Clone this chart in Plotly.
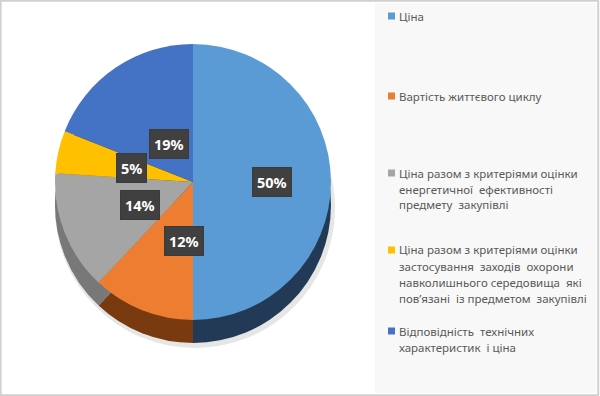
import math
import plotly.graph_objects as go

categories = [
    "Ціна",
    "Вартість життєвого циклу",
    "Ціна разом з критеріями оцінки енергетичної ефективності предмету закупівлі",
    "Ціна разом з критеріями оцінки застосування заходів охорони навколишнього середовища які пов’язані із предметом закупівлі",
    "Відповідність технічних характеристик і ціна",
]
legend_lines = [
    ["Ціна"],
    ["Вартість життєвого циклу"],
    ["Ціна разом з критеріями оцінки", "енергетичної  ефективності", "предмету  закупівлі"],
    ["Ціна разом з критеріями оцінки", "застосування  заходів  охорони", "навколишнього середовища  які",
     "пов’язані  із предметом  закупівлі"],
    ["Відповідність  технічних", "характеристик  і ціна"],
]
values = [50, 12, 14, 5, 19]
top_colors = ["#5B9BD5", "#ED7D31", "#A5A5A5", "#FFC000", "#4472C4"]
side_colors = ["#223A55", "#7A3A10", "#787878", "#8A6800", "#233C6A"]

W, H = 600, 396
cx_px, cy_px, r_px, depth = 193, 182, 138, 23


def dom(cx, cy, r):
    return dict(x=[(cx - r) / W, (cx + r) / W], y=[1 - (cy + r) / H, 1 - (cy - r) / H])


fig = go.Figure()
# soft shadow
fig.add_trace(go.Pie(values=[1], marker=dict(colors=["#e6e6e6"], line=dict(width=0)),
                     domain=dom(cx_px + 2, cy_px + depth + 3, r_px + 2), textinfo="none",
                     hoverinfo="skip", showlegend=False, sort=False))
# side (depth) of the pie
fig.add_trace(go.Pie(labels=categories, values=values, sort=False, direction="clockwise", rotation=0,
                     marker=dict(colors=side_colors, line=dict(width=0)),
                     domain=dom(cx_px, cy_px + depth, r_px), textinfo="none",
                     hoverinfo="skip", showlegend=False))
# top face
fig.add_trace(go.Pie(labels=categories, values=values, sort=False, direction="clockwise", rotation=0,
                     marker=dict(colors=top_colors, line=dict(width=0)),
                     domain=dom(cx_px, cy_px, r_px), textinfo="none", showlegend=False))

shapes = [
    dict(type="rect", xref="paper", yref="paper", x0=0.001, x1=0.997, y0=0.002, y1=0.998,
         line=dict(color="#d0d0d0", width=2), fillcolor="white", layer="below"),
    dict(type="rect", xref="paper", yref="paper", x0=375 / W, x1=596 / W, y0=1 - 393 / H, y1=1 - 3 / H,
         line=dict(width=0), fillcolor="#f8f8f8", layer="below"),
]
annotations = []

# data labels
total = sum(values)
cum = 0
for v in values:
    mid = (cum + v / 2) / total
    cum += v
    th = 2 * math.pi * mid
    x = (cx_px + 0.57 * r_px * math.sin(th)) / W
    y = 1 - (cy_px - 0.46 * r_px * math.cos(th)) / H
    txt = f"{v / total * 100:.0f}%"
    annotations.append(dict(x=x, y=y, xref="paper", yref="paper", text=f"<b>{txt}</b>", showarrow=False,
                            bgcolor="#404040", font=dict(color="white", size=14.5, family="Noto Sans"),
                            borderpad=4, borderwidth=1, bordercolor="#3a3a3a"))

# legend
item_tops = [16, 96, 173, 250, 331]
for lines, col, yc in zip(legend_lines, top_colors, item_tops):
    shapes.append(dict(type="rect", xref="paper", yref="paper", x0=388 / W, x1=395 / W,
                       y0=1 - (yc + 3.5) / H, y1=1 - (yc - 3.5) / H, fillcolor=col, line=dict(width=0)))
    for k, line in enumerate(lines):
        annotations.append(dict(x=398 / W, y=1 - (yc + 16 * k) / H, xref="paper", yref="paper", text=line,
                                showarrow=False, xanchor="left", yanchor="middle", align="left",
                                font=dict(color="#595959", size=11.5, family="Noto Sans"), borderpad=0))

fig.update_layout(width=W, height=H, margin=dict(l=0, r=0, t=0, b=0), paper_bgcolor="white",
                  plot_bgcolor="white", shapes=shapes, annotations=annotations, showlegend=False)
fig.write_html("out.html", config={"displayModeBar": False},
               post_script="document.body.style.margin='0';document.body.style.overflow='hidden';")
